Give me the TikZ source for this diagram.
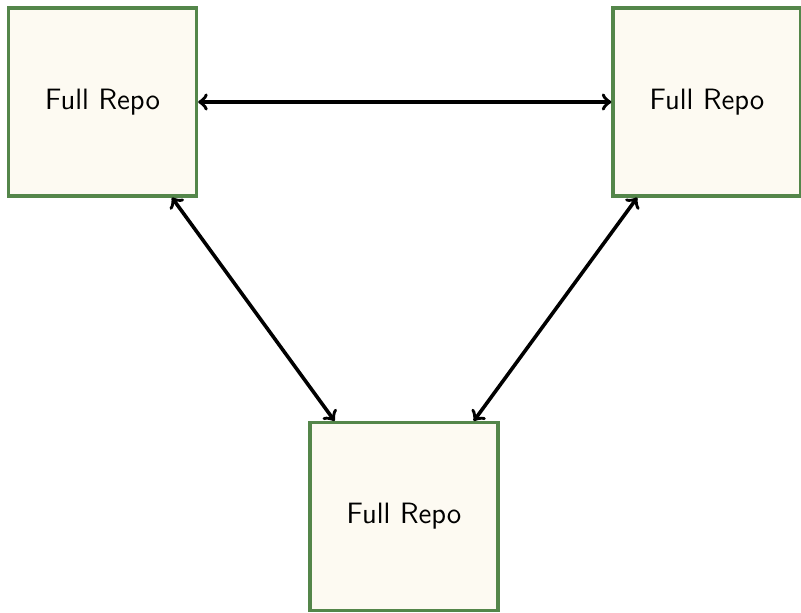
\documentclass[tikz,border=0pt]{standalone}
\usepackage{tikz}
\usetikzlibrary{arrows}

\definecolor{repoborder}{RGB}{84,134,74}
\definecolor{repofill}{RGB}{253,250,242}

\tikzset{
	repo/.style={draw=repoborder,fill=repofill,line width=1.3pt,minimum size=2.58cm,font=\sffamily\fontsize{11.5}{14}\selectfont},
}

\begin{document}
\begin{tikzpicture}

		\useasboundingbox (0,0) rectangle (11,8.405);

		\node[repo] (RepoA) at (1.408,7.004) {Full Repo};
		\node[repo] (RepoB) at (9.709,7.004) {Full Repo};
		\node[repo] (RepoC) at (5.548,1.311) {Full Repo};

		\draw[<->,draw=black,line width=1.4pt] (RepoA) to (RepoB);
		\draw[<->,draw=black,line width=1.4pt] (RepoA) to (RepoC);
		\draw[<->,draw=black,line width=1.4pt] (RepoB) to (RepoC);

	\end{tikzpicture}
\end{document}
